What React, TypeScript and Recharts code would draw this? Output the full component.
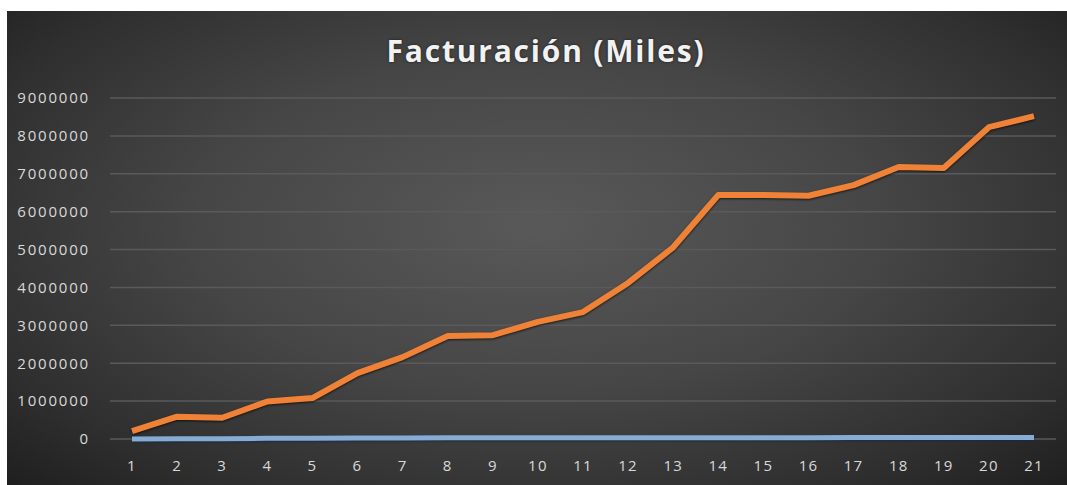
import { LineChart, Line, CartesianGrid, XAxis, YAxis } from "recharts";

const days = ["1", "2", "3", "4", "5", "6", "7", "8", "9", "10", "11", "12", "13", "14", "15", "16", "17", "18", "19", "20", "21"];

const facturacion = [
  210000, 590000, 560000, 990000, 1080000, 1740000, 2160000, 2720000, 2740000, 3090000, 3350000,
  4120000, 5060000, 6440000, 6440000, 6420000, 6700000, 7180000, 7150000, 8230000, 8520000,
];

const miles = [
  2000, 5000, 6000, 18000, 22000, 26000, 28000, 30000, 31000, 32000, 33000,
  34000, 35000, 36000, 36000, 36000, 37000, 38000, 38000, 40000, 41000,
];

const yTicks = [0, 1000000, 2000000, 3000000, 4000000, 5000000, 6000000, 7000000, 8000000, 9000000];

const data = days.map((d, i) => ({ day: d, facturacion: facturacion[i], miles: miles[i] }));

const tickStyle = { fill: "#d9d9d9", fontSize: 15, fontFamily: "'Open Sans', sans-serif", letterSpacing: 1.2 };
const yTickStyle = { ...tickStyle, letterSpacing: 1.8 };

export default function App() {
  return (
    <div
      style={{
        position: "absolute",
        left: 7,
        top: 11,
        width: 1060,
        height: 474,
        background:
          "radial-gradient(ellipse farthest-corner at 50% 45%, #595959 0%, #464646 45%, #2f2f2f 80%, #1f1f1f 100%)",
      }}
    >
      <div
        style={{
          position: "absolute",
          left: 0,
          top: 19,
          width: 1078,
          textAlign: "center",
          color: "#f2f2f2",
          fontFamily: "'Open Sans', sans-serif",
          fontWeight: 700,
          fontSize: 30,
          letterSpacing: 1.8,
          textShadow: "0 0 3px rgba(0,0,0,0.6)",
        }}
      >
        Facturación (Miles)
      </div>
      <LineChart width={1060} height={474} data={data} margin={{ top: 87, right: 11, left: 0, bottom: 0 }}>
        <CartesianGrid vertical={false} stroke="#5a5a5a" strokeWidth={1.5} />
        <XAxis
          dataKey="day"
          axisLine={false}
          tickLine={false}
          tickMargin={15}
          height={46}
          interval={0}
          padding={{ left: 22, right: 22 }}
          tick={tickStyle}
        />
        <YAxis
          domain={[0, 9000000]}
          ticks={yTicks}
          axisLine={false}
          tickLine={false}
          tickMargin={14}
          width={103}
          interval={0}
          tick={yTickStyle}
        />
        <Line
          dataKey="miles"
          stroke="#86acd4"
          strokeWidth={5}
          dot={false}
          isAnimationActive={false}
          strokeLinejoin="round"
          style={{ filter: "drop-shadow(0px 1px 1px rgba(20,40,70,0.8))" }}
        />
        <Line
          dataKey="facturacion"
          stroke="#ef8236"
          strokeWidth={6}
          dot={false}
          isAnimationActive={false}
          strokeLinejoin="round"
          style={{ filter: "drop-shadow(0px 1px 1px rgba(0,0,0,0.7))" }}
        />
      </LineChart>
    </div>
  );
}
